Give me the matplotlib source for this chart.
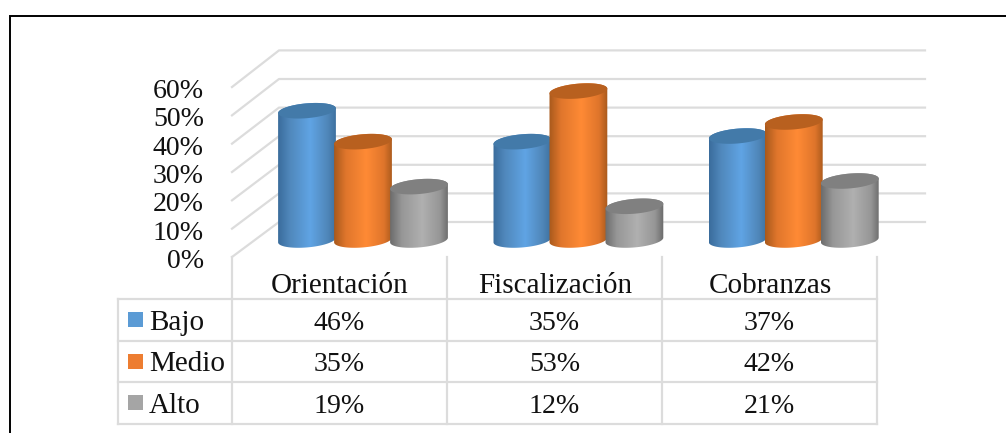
import numpy as np
import matplotlib
matplotlib.use('Agg')
import matplotlib.pyplot as plt
from matplotlib.colors import LinearSegmentedColormap
from matplotlib.patches import PathPatch, Rectangle
from matplotlib.path import Path

categories = ['Orientación', 'Fiscalización', 'Cobranzas']
series = ['Bajo', 'Medio', 'Alto']
bajo = [46, 35, 37]
medio = [35, 53, 42]
alto = [19, 12, 21]
ticks = [0, 10, 20, 30, 40, 50, 60]

key_colors = ['#5b9bd5', '#ed7d31', '#a5a5a5']
top_colors = ['#437aa9', '#b8601f', '#808080']
side_colors = [('#3a6c9c', '#5088bc', '#60a4e4', '#4f86b8', '#3c6f9e'),
               ('#a8591c', '#e0762c', '#ff8a35', '#df752b', '#a8591c'),
               ('#6c6c6c', '#979797', '#b0b0b0', '#969696', '#6a6a6a')]

W, H = 1006, 433
GRID = '#dcdcdc'
INK = '#111111'
plt.rcParams['font.family'] = ['Liberation Serif', 'DejaVu Serif']

fig = plt.figure(figsize=(W / 100, H / 100), dpi=100, facecolor='white')

# page layer in pixels: frame, walls, table, text
page = fig.add_axes([0, 0, 1, 1])
page.set_xlim(0, W)
page.set_ylim(H, 0)
page.axis('off')

# chart layer: x in categories, y in percent
PX_CAT = 215.4
PX_PCT = 2.81
X0, Y0 = 363, 240
ax = fig.add_axes([0, 0, 1, 1])
ax.patch.set_alpha(0)
ax.axis('off')

page.plot([10, 10, W], [H, 15.5, 15.5], color='black', lw=1.4, solid_joinstyle='miter')

for t in ticks:
    y = 257 - t * 2.833
    yb = 222 - t * 2.86
    page.plot([232, 279, 925], [y, yb, yb], color=GRID, lw=1.6)
    page.text(204, y + 11, f'{t}%', ha='right', va='baseline', fontsize=20.1, color=INK)

# table grid
col_x = [232, 447, 662, 877]
row_y = [299, 340.5, 382, 423.5]
for x in col_x:
    page.plot([x, x], [257, row_y[-1]], color=GRID, lw=1.6)
page.plot([118, 118], [row_y[0], row_y[-1]], color=GRID, lw=1.6)
for y in row_y:
    page.plot([118, col_x[-1]], [y, y], color=GRID, lw=1.6)

for i, cat in enumerate(categories):
    page.text((col_x[i] + col_x[i + 1]) / 2 + 0.5, 293, cat, ha='center', va='baseline',
              fontsize=21, color=INK)

values = [bajo, medio, alto]
for r, name in enumerate(series):
    yc = (row_y[r] + row_y[r + 1]) / 2
    page.add_patch(Rectangle((128, yc - 7.5), 15, 15, color=key_colors[r], lw=0))
    page.text(149, yc + 10, name, ha='left', va='baseline', fontsize=21, color=INK)
    for c in range(len(categories)):
        page.text((col_x[c] + col_x[c + 1]) / 2, yc + 10, f'{values[r][c]}%', ha='center',
                  va='baseline', fontsize=20.1, color=INK)

# cylinders
A, B, TILT = 29 / PX_CAT, 7.4 / PX_PCT, np.radians(5)
STEP = 56 / PX_CAT


def ring(cx, cy, t):
    # tilted ellipse, worked out in pixels then put back in data units
    a, b = A * PX_CAT, B * PX_PCT
    px = a * np.cos(t) * np.cos(TILT) - b * np.sin(t) * np.sin(TILT)
    py = a * np.cos(t) * np.sin(TILT) + b * np.sin(t) * np.cos(TILT)
    return cx + px / PX_CAT, cy + py / PX_PCT


for s in range(len(series)):
    stops = [0, 0.2, 0.55, 0.85, 1]
    cmap = LinearSegmentedColormap.from_list('c', list(zip(stops, side_colors[s])))
    for c in range(len(categories)):
        cx = c + (s - 1) * STEP
        v = values[s][c]
        t = np.linspace(0, 2 * np.pi, 90)
        lo = np.linspace(np.pi, 2 * np.pi, 45)
        hi = np.linspace(0, np.pi, 45)
        xb, yb = ring(cx, 0, lo)
        xt, yt = ring(cx, v, hi)
        pts = np.column_stack([np.r_[xb, xt], np.r_[yb, yt]])
        body = PathPatch(Path(np.vstack([pts, pts[0]]), closed=True), fc='none', ec='none',
                         transform=ax.transData)
        ax.add_patch(body)
        img = ax.imshow(np.linspace(0, 1, 128).reshape(1, -1), cmap=cmap, aspect='auto',
                        extent=[cx - A * 1.01, cx + A * 1.01, -5, v + 5], zorder=2 + s)
        img.set_clip_path(body)
        xe, ye = ring(cx, v, t)
        ax.fill(xe, ye, color=top_colors[s], lw=0, zorder=2 + s)

ax.set_xlim((0 - X0) / PX_CAT, (W - X0) / PX_CAT)
ax.set_ylim((Y0 - H) / PX_PCT, Y0 / PX_PCT)

fig.savefig('out.png', dpi=100)
